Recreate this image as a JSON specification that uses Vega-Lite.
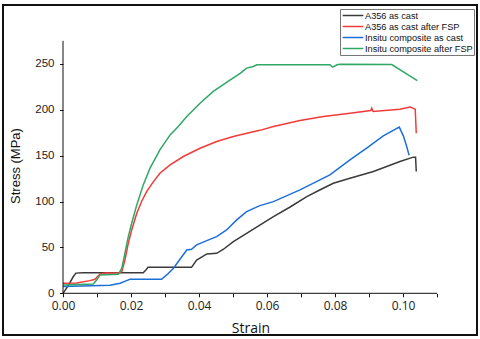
{
  "$schema": "https://vega.github.io/schema/vega-lite/v6.json",
  "width": 474,
  "height": 330,
  "autosize": {"type": "none"},
  "padding": {"left": 3, "top": 5, "right": 3, "bottom": 4},
  "background": "white",
  "config": {
    "view": {"stroke": "#111111", "strokeWidth": 2},
    "font": "Liberation Sans",
    "legend": {"strokeWidth": 1}
  },
  "layer": [
    {
      "data": {
        "values": [
          {"series": "A356 as cast", "strain": 0, "stress": 0},
          {"series": "A356 as cast", "strain": 0.0015, "stress": 8},
          {"series": "A356 as cast", "strain": 0.003, "stress": 18},
          {"series": "A356 as cast", "strain": 0.0038, "stress": 22},
          {"series": "A356 as cast", "strain": 0.006, "stress": 22.5},
          {"series": "A356 as cast", "strain": 0.012, "stress": 22.5},
          {"series": "A356 as cast", "strain": 0.018, "stress": 22.5},
          {"series": "A356 as cast", "strain": 0.0236, "stress": 22.5},
          {"series": "A356 as cast", "strain": 0.0245, "stress": 26},
          {"series": "A356 as cast", "strain": 0.025, "stress": 28.3},
          {"series": "A356 as cast", "strain": 0.03, "stress": 28.3},
          {"series": "A356 as cast", "strain": 0.0378, "stress": 28.3},
          {"series": "A356 as cast", "strain": 0.0393, "stress": 36.3},
          {"series": "A356 as cast", "strain": 0.041, "stress": 40},
          {"series": "A356 as cast", "strain": 0.0423, "stress": 42.9},
          {"series": "A356 as cast", "strain": 0.0452, "stress": 43.6},
          {"series": "A356 as cast", "strain": 0.0472, "stress": 48},
          {"series": "A356 as cast", "strain": 0.0501, "stress": 56.3},
          {"series": "A356 as cast", "strain": 0.054, "stress": 65.4},
          {"series": "A356 as cast", "strain": 0.058, "stress": 74.5},
          {"series": "A356 as cast", "strain": 0.0619, "stress": 83.5},
          {"series": "A356 as cast", "strain": 0.0668, "stress": 94},
          {"series": "A356 as cast", "strain": 0.0717, "stress": 105.3},
          {"series": "A356 as cast", "strain": 0.0755, "stress": 112.5},
          {"series": "A356 as cast", "strain": 0.0795, "stress": 119.9},
          {"series": "A356 as cast", "strain": 0.0844, "stress": 125.4},
          {"series": "A356 as cast", "strain": 0.0913, "stress": 132.6},
          {"series": "A356 as cast", "strain": 0.0991, "stress": 143.5},
          {"series": "A356 as cast", "strain": 0.103, "stress": 148.3},
          {"series": "A356 as cast", "strain": 0.1037, "stress": 148.3},
          {"series": "A356 as cast", "strain": 0.1039, "stress": 132.6},

          {"series": "A356 as cast after FSP", "strain": 0, "stress": 10.9},
          {"series": "A356 as cast after FSP", "strain": 0.004, "stress": 11.2},
          {"series": "A356 as cast after FSP", "strain": 0.0079, "stress": 13.8},
          {"series": "A356 as cast after FSP", "strain": 0.0094, "stress": 15.3},
          {"series": "A356 as cast after FSP", "strain": 0.0109, "stress": 21},
          {"series": "A356 as cast after FSP", "strain": 0.0125, "stress": 22},
          {"series": "A356 as cast after FSP", "strain": 0.0163, "stress": 22.5},
          {"series": "A356 as cast after FSP", "strain": 0.0173, "stress": 23.6},
          {"series": "A356 as cast after FSP", "strain": 0.0182, "stress": 36.3},
          {"series": "A356 as cast after FSP", "strain": 0.0192, "stress": 54.5},
          {"series": "A356 as cast after FSP", "strain": 0.0202, "stress": 69},
          {"series": "A356 as cast after FSP", "strain": 0.0217, "stress": 87.2},
          {"series": "A356 as cast after FSP", "strain": 0.0231, "stress": 100},
          {"series": "A356 as cast after FSP", "strain": 0.0246, "stress": 110.8},
          {"series": "A356 as cast after FSP", "strain": 0.0266, "stress": 121.7},
          {"series": "A356 as cast after FSP", "strain": 0.0285, "stress": 130.8},
          {"series": "A356 as cast after FSP", "strain": 0.0315, "stress": 139.9},
          {"series": "A356 as cast after FSP", "strain": 0.0354, "stress": 149},
          {"series": "A356 as cast after FSP", "strain": 0.0403, "stress": 158},
          {"series": "A356 as cast after FSP", "strain": 0.0452, "stress": 165.3},
          {"series": "A356 as cast after FSP", "strain": 0.0501, "stress": 170.8},
          {"series": "A356 as cast after FSP", "strain": 0.055, "stress": 175.2},
          {"series": "A356 as cast after FSP", "strain": 0.0579, "stress": 177.5},
          {"series": "A356 as cast after FSP", "strain": 0.0619, "stress": 181.6},
          {"series": "A356 as cast after FSP", "strain": 0.0697, "stress": 188.2},
          {"series": "A356 as cast after FSP", "strain": 0.0766, "stress": 192.5},
          {"series": "A356 as cast after FSP", "strain": 0.0844, "stress": 196.2},
          {"series": "A356 as cast after FSP", "strain": 0.0905, "stress": 199},
          {"series": "A356 as cast after FSP", "strain": 0.0908, "stress": 201.6},
          {"series": "A356 as cast after FSP", "strain": 0.0912, "stress": 198},
          {"series": "A356 as cast after FSP", "strain": 0.0991, "stress": 200.6},
          {"series": "A356 as cast after FSP", "strain": 0.1021, "stress": 202.8},
          {"series": "A356 as cast after FSP", "strain": 0.1036, "stress": 200.6},
          {"series": "A356 as cast after FSP", "strain": 0.1039, "stress": 174.4},

          {"series": "Insitu composite as cast", "strain": 0, "stress": 7.3},
          {"series": "Insitu composite as cast", "strain": 0.0138, "stress": 8.7},
          {"series": "Insitu composite as cast", "strain": 0.0168, "stress": 10.9},
          {"series": "Insitu composite as cast", "strain": 0.0187, "stress": 13.8},
          {"series": "Insitu composite as cast", "strain": 0.0197, "stress": 15.3},
          {"series": "Insitu composite as cast", "strain": 0.029, "stress": 15.3},
          {"series": "Insitu composite as cast", "strain": 0.0305, "stress": 20},
          {"series": "Insitu composite as cast", "strain": 0.0325, "stress": 27.3},
          {"series": "Insitu composite as cast", "strain": 0.0344, "stress": 37.1},
          {"series": "Insitu composite as cast", "strain": 0.0364, "stress": 47.2},
          {"series": "Insitu composite as cast", "strain": 0.0378, "stress": 48},
          {"series": "Insitu composite as cast", "strain": 0.0393, "stress": 52.7},
          {"series": "Insitu composite as cast", "strain": 0.0423, "stress": 57.4},
          {"series": "Insitu composite as cast", "strain": 0.0452, "stress": 61.8},
          {"series": "Insitu composite as cast", "strain": 0.0481, "stress": 69},
          {"series": "Insitu composite as cast", "strain": 0.0511, "stress": 80},
          {"series": "Insitu composite as cast", "strain": 0.054, "stress": 89},
          {"series": "Insitu composite as cast", "strain": 0.0579, "stress": 95.5},
          {"series": "Insitu composite as cast", "strain": 0.0619, "stress": 99.9},
          {"series": "Insitu composite as cast", "strain": 0.0697, "stress": 112.6},
          {"series": "Insitu composite as cast", "strain": 0.0785, "stress": 129},
          {"series": "Insitu composite as cast", "strain": 0.0844, "stress": 145.3},
          {"series": "Insitu composite as cast", "strain": 0.0893, "stress": 158.1},
          {"series": "Insitu composite as cast", "strain": 0.0942, "stress": 171.5},
          {"series": "Insitu composite as cast", "strain": 0.0989, "stress": 181},
          {"series": "Insitu composite as cast", "strain": 0.1001, "stress": 171.5},
          {"series": "Insitu composite as cast", "strain": 0.1011, "stress": 159.8},
          {"series": "Insitu composite as cast", "strain": 0.1018, "stress": 150.4},

          {"series": "Insitu composite after FSP", "strain": 0, "stress": 9.1},
          {"series": "Insitu composite after FSP", "strain": 0.0089, "stress": 10.2},
          {"series": "Insitu composite after FSP", "strain": 0.0099, "stress": 14.5},
          {"series": "Insitu composite after FSP", "strain": 0.0109, "stress": 20},
          {"series": "Insitu composite after FSP", "strain": 0.0163, "stress": 20.7},
          {"series": "Insitu composite after FSP", "strain": 0.0173, "stress": 27.3},
          {"series": "Insitu composite after FSP", "strain": 0.0182, "stress": 43.6},
          {"series": "Insitu composite after FSP", "strain": 0.0192, "stress": 61.8},
          {"series": "Insitu composite after FSP", "strain": 0.0202, "stress": 76.3},
          {"series": "Insitu composite after FSP", "strain": 0.0217, "stress": 96.3},
          {"series": "Insitu composite after FSP", "strain": 0.0236, "stress": 118.1},
          {"series": "Insitu composite after FSP", "strain": 0.0256, "stress": 136.3},
          {"series": "Insitu composite after FSP", "strain": 0.0285, "stress": 156.3},
          {"series": "Insitu composite after FSP", "strain": 0.0315, "stress": 172.6},
          {"series": "Insitu composite after FSP", "strain": 0.0339, "stress": 181.7},
          {"series": "Insitu composite after FSP", "strain": 0.0364, "stress": 192.6},
          {"series": "Insitu composite after FSP", "strain": 0.0403, "stress": 207.1},
          {"series": "Insitu composite after FSP", "strain": 0.0442, "stress": 219.9},
          {"series": "Insitu composite after FSP", "strain": 0.0481, "stress": 229.7},
          {"series": "Insitu composite after FSP", "strain": 0.0521, "stress": 239.5},
          {"series": "Insitu composite after FSP", "strain": 0.054, "stress": 245.3},
          {"series": "Insitu composite after FSP", "strain": 0.056, "stress": 247.1},
          {"series": "Insitu composite after FSP", "strain": 0.057, "stress": 248.9},
          {"series": "Insitu composite after FSP", "strain": 0.0785, "stress": 248.9},
          {"series": "Insitu composite after FSP", "strain": 0.0793, "stress": 246.3},
          {"series": "Insitu composite after FSP", "strain": 0.0806, "stress": 248.9},
          {"series": "Insitu composite after FSP", "strain": 0.0815, "stress": 249.5},
          {"series": "Insitu composite after FSP", "strain": 0.0967, "stress": 249.2},
          {"series": "Insitu composite after FSP", "strain": 0.1042, "stress": 231.7}
        ]
      },
      "mark": {"type": "line", "strokeWidth": 1.5, "clip": false},
      "encoding": {
        "x": {
          "field": "strain",
          "type": "quantitative",
          "scale": {"domain": [-0.0176471, 0.1217647], "nice": false, "zero": false},
          "axis": {
            "title": "Strain",
            "values": [0, 0.01, 0.02, 0.03, 0.04, 0.05, 0.06, 0.07, 0.08, 0.09, 0.1, 0.11],
            "labelExpr": "round(datum.value * 100) % 2 == 0 ? format(datum.value, '.2f') : ''",
            "offset": -41.7,
            "domain": false,
            "grid": false,
            "tickColor": "#111111",
            "tickSize": 3.5,
            "tickWidth": 1,
            "labelFont": "Open Sans",
            "labelFontSize": 12,
            "labelColor": "#222222",
            "labelPadding": 4,
            "labelFlush": false,
            "labelOverlap": false,
            "labelBound": false,
            "titleFont": "Open Sans",
            "titleFontSize": 14,
            "titleFontWeight": "normal",
            "titleColor": "#111111",
            "titleX": 247.5,
            "titleY": 38.7,
            "titleAlign": "center",
            "titleBaseline": "alphabetic"
          }
        },
        "y": {
          "field": "stress",
          "type": "quantitative",
          "scale": {"domain": [-45.42, 314.05], "nice": false, "zero": false},
          "axis": {
            "title": "Stress (MPa)",
            "values": [0, 25, 50, 75, 100, 125, 150, 175, 200, 225, 250, 275],
            "labelExpr": "datum.value % 50 == 0 ? datum.label : ''",
            "offset": -60,
            "domain": false,
            "grid": false,
            "tickColor": "#111111",
            "tickSize": 3.5,
            "tickWidth": 1,
            "labelFont": "Liberation Sans",
            "labelFontSize": 11.5,
            "labelColor": "#222222",
            "labelPadding": 5.5,
            "labelOverlap": false,
            "labelBound": false,
            "labelFlush": false,
            "titleFont": "Liberation Sans",
            "titleFontSize": 13,
            "titleFontWeight": "normal",
            "titleColor": "#111111",
            "titleAngle": -90,
            "titleX": -44,
            "titleY": 160.5,
            "titleAlign": "center",
            "titleBaseline": "alphabetic"
          }
        },
        "color": {
          "field": "series",
          "type": "nominal",
          "scale": {
            "domain": ["A356 as cast", "A356 as cast after FSP", "Insitu composite as cast", "Insitu composite after FSP"],
            "range": ["#3a3a3a", "#f23a3a", "#1c6fd8", "#2ea864"]
          },
          "legend": {
            "orient": "none",
            "legendX": 337,
            "legendY": 4,
            "title": null,
            "symbolType": "M-2.3,0H2.3",
            "symbolSize": 81,
            "symbolStrokeWidth": 1.5,
            "symbolOffset": 6.5,
            "labelFont": "Liberation Sans",
            "labelFontSize": 9.2,
            "labelColor": "#111111",
            "labelOffset": 6.5,
            "padding": 1,
            "rowPadding": 0,
            "strokeColor": "#777777",
            "fillColor": "white"
          }
        }
      }
    },
    {
      "data": {"values": [{}]},
      "mark": {"type": "rule", "color": "#111111", "strokeWidth": 1},
      "encoding": {"x": {"datum": 0}, "x2": {"datum": 0.11}, "y": {"datum": 0}}
    },
    {
      "data": {"values": [{}]},
      "mark": {"type": "rule", "color": "#111111", "strokeWidth": 1},
      "encoding": {"x": {"datum": 0}, "y": {"datum": 0}, "y2": {"datum": 275}}
    }
  ]
}
